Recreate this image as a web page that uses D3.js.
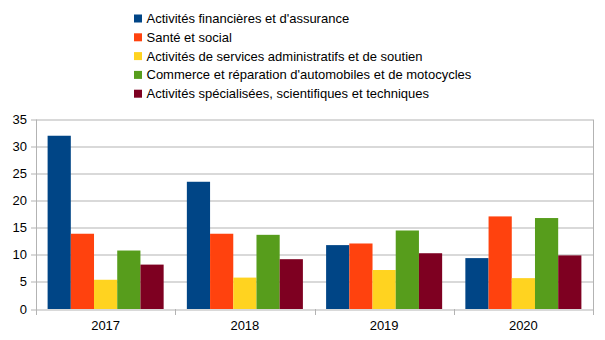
<!DOCTYPE html>
<html>
<head>
<meta charset="utf-8">
<script src="https://cdn.jsdelivr.net/npm/d3@7"></script>
<style>
  body { margin: 0; background: #fff; }
  text { font-family: "Liberation Sans", Arial, sans-serif; }
</style>
</head>
<body>
<svg id="chart" width="605" height="340"></svg>
<script>
const years = ["2017", "2018", "2019", "2020"];
const sectors = [
  "Activités financières et d'assurance",
  "Santé et social",
  "Activités de services administratifs et de soutien",
  "Commerce et réparation d'automobiles et de motocycles",
  "Activités spécialisées, scientifiques et techniques"
];
const finance = [32, 23.5, 11.8, 9.4];
const sante = [13.9, 13.9, 12.1, 17.1];
const services = [5.4, 5.8, 7.2, 5.7];
const commerce = [10.8, 13.7, 14.5, 16.8];
const specialisees = [8.2, 9.2, 10.3, 9.9];
const yTicks = [0, 5, 10, 15, 20, 25, 30, 35];

const series = [finance, sante, services, commerce, specialisees];
const colors = ["#004586", "#ff420e", "#ffd320", "#579d1c", "#7e0021"];

const svg = d3.select("#chart");
const margins = { top: 119.5, right: 12, bottom: 31, left: 36 };
const width = +svg.attr("width");
const height = +svg.attr("height");
const plotW = width - margins.left - margins.right;
const plotH = height - margins.top - margins.bottom;

const plot = svg.append("g")
  .attr("transform", "translate(" + margins.left + "," + margins.top + ")");

const x = d3.scaleBand().domain(years).range([0, plotW]).paddingInner(0).paddingOuter(0);
const inner = d3.scaleBand().domain(d3.range(sectors.length))
  .range([0, x.bandwidth()]).paddingOuter(0.5).paddingInner(0);
const y = d3.scaleLinear().domain([0, 35]).range([plotH, 0]);

// grid lines with a short stub left of the axis
plot.selectAll("line.grid")
  .data(yTicks)
  .join("line")
  .attr("class", "grid")
  .attr("x1", -5)
  .attr("x2", plotW)
  .attr("y1", (d) => Math.round(y(d)) + 0.5)
  .attr("y2", (d) => Math.round(y(d)) + 0.5)
  .attr("stroke", "#b3b3b3");

plot.selectAll("text.ylab")
  .data(yTicks)
  .join("text")
  .attr("class", "ylab")
  .attr("x", -9)
  .attr("y", (d) => y(d))
  .attr("dy", "0.35em")
  .attr("text-anchor", "end")
  .attr("font-size", 13)
  .attr("fill", "#000")
  .text((d) => d);

// bars
const groups = plot.selectAll("g.year")
  .data(years)
  .join("g")
  .attr("class", "year")
  .attr("transform", (d) => "translate(" + x(d) + ",0)");

groups.selectAll("rect")
  .data((yr, i) => series.map((s, k) => ({ k: k, v: s[i] })))
  .join("rect")
  .attr("x", (d) => inner(d.k))
  .attr("width", inner.bandwidth())
  .attr("y", (d) => y(d.v))
  .attr("height", (d) => plotH - y(d.v))
  .attr("fill", (d) => colors[d.k]);

// frame: left axis, right border, category separators
plot.append("line")
  .attr("x1", 0.5).attr("x2", 0.5)
  .attr("y1", 0).attr("y2", plotH + 6)
  .attr("stroke", "#b3b3b3");
plot.append("line")
  .attr("x1", plotW + 0.5).attr("x2", plotW + 0.5)
  .attr("y1", 0).attr("y2", plotH + 6)
  .attr("stroke", "#b3b3b3");
plot.selectAll("line.sep")
  .data(years.slice(1))
  .join("line")
  .attr("class", "sep")
  .attr("x1", (d) => Math.round(x(d)) + 0.5)
  .attr("x2", (d) => Math.round(x(d)) + 0.5)
  .attr("y1", plotH)
  .attr("y2", plotH + 6)
  .attr("stroke", "#b3b3b3");

plot.selectAll("text.xlab")
  .data(years)
  .join("text")
  .attr("class", "xlab")
  .attr("x", (d) => x(d) + x.bandwidth() / 2)
  .attr("y", plotH + 16)
  .attr("dy", "0.35em")
  .attr("text-anchor", "middle")
  .attr("font-size", 13)
  .attr("fill", "#000")
  .text((d) => d);

// legend
const legend = svg.append("g").attr("transform", "translate(134,18.5)");
const rows = legend.selectAll("g")
  .data(sectors)
  .join("g")
  .attr("transform", (d, i) => "translate(0," + i * 18.8 + ")");
rows.append("rect")
  .attr("x", 0).attr("y", -4)
  .attr("width", 8).attr("height", 8)
  .attr("fill", (d, i) => colors[i]);
rows.append("text")
  .attr("x", 12.5)
  .attr("dy", "0.35em")
  .attr("font-size", 13)
  .attr("fill", "#000")
  .text((d) => d);
</script>
</body>
</html>
